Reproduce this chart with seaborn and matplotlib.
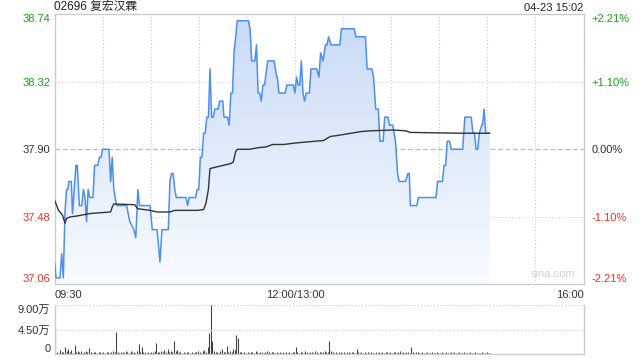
import numpy as np
import matplotlib
matplotlib.use("Agg")
import matplotlib.pyplot as plt
import seaborn as sns

# ---------------- data ----------------
title_text = "02696 复宏汉霖"
stamp_text = "04-23 15:02"
prev_close = 37.90
price_ticks = [37.06, 37.48, 37.90, 38.32, 38.74]
price_labels = ["37.06", "37.48", "37.90", "38.32", "38.74"]
pct_labels = ["-2.21%", "-1.10%", "0.00%", "+1.10%", "+2.21%"]
x_tick_pos = [0, 150, 330]
x_tick_labels = ["09:30", "12:00/13:00", "16:00"]

# price line vertices (trading minutes since 09:30, price)
price_t = [0, 1, 3.4, 4.5, 5.5, 6.5, 7.5, 8.3, 9, 10.5, 11.2, 13.4, 14.2, 15.5, 17, 18, 19, 20, 21, 22,
           24, 25, 27, 28, 29, 30, 34, 35, 36, 37, 38.7, 45, 47, 49.5, 50.7, 52, 53, 59.6, 61, 64,
           65.8, 67, 71, 72, 73, 74, 75, 76, 82, 83, 84, 88, 89, 90, 91, 92, 93, 94, 95, 96,
           97, 98, 99, 100, 102, 103, 105, 105.7, 108, 109, 110, 111, 112, 113, 114, 121, 122, 123, 125, 126,
           127, 128, 129, 130, 131, 133, 137, 138.6, 139, 140, 143.8, 145, 149, 150, 151, 152, 153, 154, 155, 156,
           157, 159, 160, 163.6, 165, 166, 167.5, 169, 170, 171, 172.5, 178, 179, 187, 188, 194, 195, 198, 199, 200.4,
           202, 203, 205, 206, 208, 209, 211, 212.7, 214, 215, 219, 220.5, 221.3, 222, 226, 227, 238, 239, 242, 243,
           244, 245, 246.5, 247.5, 254.6, 256, 260, 261, 262, 263, 264, 265, 266.5, 267, 268, 269, 271.5]
price_v = [37.20, 37.10, 37.10, 37.25, 37.10, 37.50, 37.65, 37.65, 37.70, 37.70, 37.50, 37.80, 37.80, 37.55, 37.55, 37.65, 37.60, 37.45, 37.65, 37.60,
           37.60, 37.80, 37.80, 37.85, 37.85, 37.90, 37.90, 37.70, 37.85, 37.65, 37.55, 37.55, 37.45, 37.40, 37.35, 37.65, 37.55, 37.55, 37.40, 37.40,
           37.20, 37.40, 37.40, 37.70, 37.75, 37.75, 37.65, 37.60, 37.60, 37.55, 37.60, 37.60, 37.65, 37.65, 37.85, 37.85, 38.00, 38.00, 38.10, 38.10,
           38.40, 38.10, 38.10, 38.15, 38.15, 38.20, 38.20, 38.10, 38.10, 38.05, 38.25, 38.25, 38.50, 38.60, 38.70, 38.70, 38.65, 38.45, 38.45, 38.55,
           38.25, 38.25, 38.20, 38.30, 38.30, 38.45, 38.45, 38.35, 38.35, 38.25, 38.25, 38.30, 38.30, 38.25, 38.35, 38.30, 38.30, 38.45, 38.25, 38.20,
           38.25, 38.25, 38.40, 38.40, 38.35, 38.50, 38.45, 38.55, 38.55, 38.60, 38.55, 38.55, 38.65, 38.65, 38.60, 38.60, 38.40, 38.40, 38.35, 38.15,
           38.15, 37.95, 37.95, 38.10, 38.10, 38.05, 38.05, 37.95, 37.75, 37.70, 37.70, 37.75, 37.75, 37.55, 37.55, 37.60, 37.60, 37.70, 37.70, 37.80,
           37.80, 37.95, 37.95, 37.90, 37.90, 38.10, 38.10, 38.00, 38.00, 37.90, 37.90, 38.00, 38.05, 38.05, 38.15, 38.00, 38.00]

# average price line vertices
avg_t = [0, 2.5, 5, 6.5, 7.5, 10, 14, 22, 28, 35, 36, 37, 50, 52, 59.6, 64, 72, 75, 89, 93,
         94.5, 96, 97, 101, 109.5, 111.5, 113, 114, 121.5, 127, 132, 136, 143, 151, 168, 172, 176, 185, 191, 197,
         211, 219, 222, 253, 271.5]
avg_v = [37.585, 37.52, 37.49, 37.44, 37.47, 37.48, 37.485, 37.50, 37.505, 37.51, 37.54, 37.56, 37.555, 37.53, 37.52, 37.51, 37.51, 37.52, 37.52, 37.525,
         37.565, 37.65, 37.78, 37.79, 37.81, 37.82, 37.885, 37.90, 37.90, 37.91, 37.915, 37.93, 37.93, 37.94, 37.955, 37.98, 37.985, 38.00, 38.01, 38.015,
         38.02, 38.015, 38.005, 38.00, 38.00]

# per-minute volume, in 万
volume = [3.9, 0.3, 0.2, 0.8, 0.3, 0.4, 1.2, 0.5, 1.0, 0.3, 0.7, 0.2, 1.6, 0.4, 0.6, 0.3, 0.6, 0.2, 0.3, 0.5,
          0.4, 1.1, 0.3, 0.2, 0.4, 0.3, 0.2, 0.3, 0.4, 0.2, 0.3, 0.2, 0.3, 0.4, 0.2, 0.3, 0.5, 0.4, 4.0, 0.3,
          0.2, 0.4, 0.3, 0.2, 0.5, 0.3, 0.2, 0.6, 0.3, 0.4, 0.2, 0.5, 1.8, 0.3, 1.2, 0.3, 0.4, 0.2, 0.3, 0.2,
          0.4, 0.3, 0.5, 2.0, 0.4, 0.3, 0.6, 0.4, 0.7, 0.3, 0.9, 0.4, 0.5, 0.3, 2.4, 0.5, 0.7, 0.4, 0.3, 0.2,
          0.3, 0.2, 0.4, 0.3, 0.2, 0.3, 0.2, 0.4, 0.3, 0.5, 0.3, 0.2, 0.6, 0.8, 0.4, 1.2, 3.9, 9.0, 2.4, 0.5,
          0.3, 0.4, 0.2, 0.5, 0.9, 0.3, 0.4, 1.4, 0.3, 0.5, 0.4, 0.9, 0.7, 3.4, 2.9, 0.4, 0.3, 0.2, 0.3, 0.2,
          0.3, 0.2, 0.4, 0.3, 0.2, 0.5, 0.3, 0.2, 0.3, 0.4, 0.2, 0.3, 0.5, 0.3, 0.2, 0.3, 0.4, 0.2, 0.3, 0.2,
          0.3, 0.2, 0.4, 0.2, 0.3, 0.2, 0.3, 0.2, 0.4, 0.3, 1.3, 0.3, 0.2, 0.4, 0.3, 0.2, 0.5, 0.3, 0.2, 0.3,
          0.4, 0.2, 0.5, 0.3, 0.2, 0.3, 0.4, 0.3, 0.6, 0.3, 0.4, 2.4, 0.5, 0.3, 0.2, 0.3, 0.2, 0.3, 0.4, 0.2,
          0.3, 0.2, 0.4, 0.3, 0.2, 0.3, 0.4, 0.2, 0.9, 0.3, 0.2, 0.3, 0.2, 0.3, 0.2, 0.4, 0.2, 0.3, 0.2, 0.2,
          0.3, 0.2, 0.4, 0.2, 0.3, 0.2, 0.3, 0.4, 0.2, 0.3, 0.2, 0.4, 0.3, 0.2, 0.3, 0.5, 0.2, 0.3, 0.2, 0.4,
          0.3, 0.2, 1.3, 0.3, 0.2, 0.3, 0.4, 0.2, 0.2, 0.3, 0.2, 0.2, 0.3, 0.2, 0.2, 0.3, 0.2, 0.2, 0.3, 0.2,
          0.2, 0.3, 0.2, 0.2, 0.3, 0.2, 0.2, 0.3, 0.2, 0.4, 0.2, 0.2, 0.3, 0.2, 0.2, 0.3, 0.2, 0.2, 0.2, 0.3,
          0.2, 0.2, 0.3, 0.2, 0.2, 0.2, 0.3, 0.2, 0.2, 0.3, 0.2, 0.2]
vol_ticks = [0, 4.5, 9.0]
vol_labels = ["0", "4.50万", "9.00万"]

# ---------------- style ----------------
sns.set_theme(style="white")
plt.rcParams["font.family"] = ["Liberation Sans", "Noto Sans CJK SC", "DejaVu Sans"]

GREEN = "#1a9e1a"
RED = "#e8322e"
GREY_TXT = "#333333"
label_colors = [RED, RED, GREY_TXT, GREEN, GREEN]
BORDER = "#cccccc"
GRID = "#cfcfcf"
LINE_BLUE = "#4d8ef0"

fig = plt.figure(figsize=(6.4, 3.6), dpi=100)
ax = fig.add_axes([54.5 / 640, 1 - 284.3 / 360, 529 / 640, 270 / 360])
axv = fig.add_axes([54.5 / 640, 1 - 354 / 360, 529 / 640, 49 / 360])

ymin, ymax = price_ticks[0], price_ticks[-1]
ax.set_xlim(0, 330)
ax.set_ylim(ymin, ymax)

# gradient fill under price line
fill = ax.fill_between(price_t, price_v, ymin, color="none", lw=0)
grad = np.linspace(0, 1, 256).reshape(-1, 1)
top_c = np.array([0.78, 0.855, 0.965])
bot_c = np.array([0.975, 0.985, 1.0])
img = bot_c + (top_c - bot_c) * grad[..., None]
img = img.reshape(256, 1, 3)
im = ax.imshow(img, extent=[0, 330, ymin, ymax], origin="lower", aspect="auto", zorder=1)
im.set_clip_path(fill.get_paths()[0], transform=ax.transData)

# grid
for k in range(1, 11):
    ax.axvline(30 * k, color=GRID, lw=0.8, ls=(0, (1, 2)), zorder=0.5)
for yv in [price_ticks[1], price_ticks[3]]:
    ax.axhline(yv, color=GRID, lw=0.8, ls=(0, (1, 2)), zorder=0.5)
ax.axhline(prev_close, color="#bdbdbd", lw=0.9, ls=(0, (4, 2)), zorder=0.5)

sns.lineplot(x=price_t, y=price_v, ax=ax, color=LINE_BLUE, lw=1.1, estimator=None, sort=False, zorder=3)
sns.lineplot(x=avg_t, y=avg_v, ax=ax, color="#333333", lw=1.0, estimator=None, sort=False, zorder=4)

for s in ax.spines.values():
    s.set_color(BORDER)
    s.set_linewidth(1)
ax.grid(False)

ax.set_yticks(price_ticks)
ax.set_yticklabels(price_labels, fontsize=8)
for lab, c in zip(ax.get_yticklabels(), label_colors):
    lab.set_color(c)
ax.get_yticklabels()[0].set_va("bottom")
ax.get_yticklabels()[-1].set_va("top")
ax.tick_params(axis="y", length=0, pad=3)

ax.set_xticks(x_tick_pos)
ax.set_xticklabels(x_tick_labels, fontsize=8, color=GREY_TXT)
xl = ax.get_xticklabels()
xl[0].set_ha("left")
xl[-1].set_ha("right")
ax.tick_params(axis="x", length=0, pad=4)

axr = ax.twinx()
axr.set_ylim(ymin, ymax)
axr.set_yticks(price_ticks)
axr.set_yticklabels(pct_labels, fontsize=8)
for lab, c in zip(axr.get_yticklabels(), label_colors):
    lab.set_color(c)
axr.get_yticklabels()[0].set_va("bottom")
axr.get_yticklabels()[-1].set_va("top")
axr.tick_params(axis="y", length=0, pad=6)
for s in axr.spines.values():
    s.set_visible(False)
axr.grid(False)

ax.text(0.0, 1.004, title_text, transform=ax.transAxes, fontsize=8.5, color="#222222",
        ha="left", va="bottom")
ax.text(1.0, 1.004, stamp_text, transform=ax.transAxes, fontsize=8, color="#222222",
        ha="right", va="bottom")
ax.text(0.985, 0.02, "sina.com", transform=ax.transAxes, fontsize=8, color="#d0d0d0",
        ha="right", va="bottom", zorder=2)

# volume
axv.set_xlim(0, 330)
axv.set_ylim(0, 9.0)
axv.vlines(np.arange(len(volume)) + 0.5, 0, volume, color="#444444", lw=0.8)
axv.axhline(4.5, color=GRID, lw=0.8, ls=(0, (1, 1.5)))
axv.axhline(9.0, color=GRID, lw=0.9, ls=(0, (1, 1.5)))
axv.set_yticks(vol_ticks)
axv.set_yticklabels(vol_labels, fontsize=8, color=GREY_TXT)
vl = axv.get_yticklabels()
vl[0].set_va("bottom")
vl[-1].set_va("top")
axv.tick_params(axis="y", length=0, pad=3)
axv.set_xticks([])
axv.grid(False)
axv.spines["top"].set_visible(False)
for side in ["left", "right", "bottom"]:
    axv.spines[side].set_color(BORDER)
    axv.spines[side].set_linewidth(1)

fig.savefig("out.png", dpi=100)
